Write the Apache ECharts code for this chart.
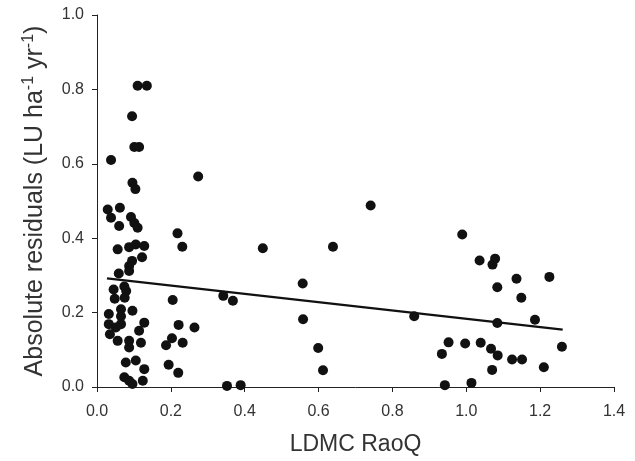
<!DOCTYPE html>
<html>
<head>
<meta charset="utf-8">
<script src="https://cdn.jsdelivr.net/npm/echarts@6/dist/echarts.min.js"></script>
<style>
  html, body { margin: 0; padding: 0; background: #fff; }
  #chart { width: 635px; height: 461px; }
</style>
</head>
<body>
<div id="chart"></div>
<script>
// LDMC RaoQ (x) vs absolute residuals (y)
const ldmcRaoQ = [
  0.110, 0.135, 0.095, 0.101, 0.114, 0.038, 0.096, 0.104, 0.029, 0.062,
  0.038, 0.092, 0.060, 0.101, 0.110, 0.056, 0.087, 0.105, 0.128, 0.122,
  0.095, 0.087, 0.087, 0.059, 0.074, 0.079, 0.045, 0.075, 0.048, 0.065,
  0.096, 0.032, 0.065, 0.032, 0.051, 0.065, 0.128, 0.114, 0.035, 0.056,
  0.087, 0.087, 0.119, 0.078, 0.105, 0.128, 0.074, 0.087, 0.096, 0.124,
  0.274, 0.218, 0.231, 0.205, 0.221, 0.264, 0.203, 0.187, 0.232, 0.194,
  0.220, 0.342, 0.368, 0.352, 0.389, 0.449, 0.557, 0.558, 0.599, 0.612,
  0.639, 0.741, 0.859, 0.989, 1.036, 1.078, 1.071, 1.136, 1.225, 1.084,
  1.149, 1.084, 1.186, 0.952, 0.934, 0.997, 1.039, 1.067, 1.085, 1.124,
  1.151, 1.070, 1.210, 1.259, 0.942, 1.014
];
const absResiduals = [
  0.810, 0.810, 0.728, 0.645, 0.645, 0.610, 0.549, 0.532, 0.477, 0.482,
  0.455, 0.457, 0.433, 0.441, 0.428, 0.370, 0.376, 0.383, 0.379, 0.349,
  0.339, 0.325, 0.312, 0.305, 0.270, 0.258, 0.262, 0.240, 0.237, 0.209,
  0.205, 0.196, 0.190, 0.169, 0.160, 0.169, 0.173, 0.151, 0.142, 0.124,
  0.124, 0.106, 0.119, 0.066, 0.071, 0.048, 0.026, 0.017, 0.008, 0.017,
  0.566, 0.413, 0.377, 0.234, 0.167, 0.160, 0.131, 0.112, 0.119, 0.060,
  0.038, 0.245, 0.232, 0.003, 0.005, 0.373, 0.278, 0.182, 0.105, 0.045,
  0.377, 0.488, 0.190, 0.410, 0.340, 0.345, 0.329, 0.291, 0.296, 0.268,
  0.240, 0.172, 0.181, 0.120, 0.089, 0.117, 0.119, 0.103, 0.085, 0.074,
  0.074, 0.046, 0.053, 0.108, 0.005, 0.011
];
// fitted regression line end points
const fitX = [0.027, 1.261];
const fitY = [0.292, 0.154];

const xTicks = [0, 0.2, 0.4, 0.6, 0.8, 1.0, 1.2, 1.4];
const yTicks = [0, 0.2, 0.4, 0.6, 0.8, 1.0];

const points = ldmcRaoQ.map((x, i) => [x, absResiduals[i]]);
const fitLine = fitX.map((x, i) => [x, fitY[i]]);

const txt = '#333';
const font = '"Liberation Sans", Arial, sans-serif';

const myChart = echarts.init(document.getElementById('chart'));
const option = {
  animation: false,
  grid: { left: 97, right: 21, top: 15, bottom: 73 },
  xAxis: {
    type: 'value',
    min: xTicks[0],
    max: xTicks[xTicks.length - 1],
    interval: 0.2,
    name: 'LDMC RaoQ',
    nameLocation: 'middle',
    nameGap: 46,
    nameTextStyle: { fontSize: 23, color: txt, fontFamily: font },
    axisLine: { lineStyle: { color: '#222', width: 1 } },
    axisTick: { show: true, length: 5, lineStyle: { color: '#222' } },
    axisLabel: {
      color: txt, fontSize: 16, fontFamily: font, margin: 17,
      formatter: v => v.toFixed(1)
    },
    splitLine: { show: false }
  },
  yAxis: {
    type: 'value',
    min: yTicks[0],
    max: yTicks[yTicks.length - 1],
    interval: 0.2,
    name: '{a|Absolute residuals (LU ha}{s|-1}{a| yr}{s|-1}{a|)}',
    nameLocation: 'middle',
    nameGap: 48,
    nameTextStyle: {
      fontFamily: font,
      rich: {
        a: { fontSize: 25, color: txt, fontFamily: font },
        s: { fontSize: 16, color: txt, fontFamily: font, padding: [0, 0, 12, 0] }
      }
    },
    axisLine: { show: true, lineStyle: { color: '#222', width: 1 } },
    axisTick: { show: true, length: 5, lineStyle: { color: '#222' } },
    axisLabel: {
      color: txt, fontSize: 16, fontFamily: font, margin: 13,
      formatter: v => v.toFixed(1)
    },
    splitLine: { show: false }
  },
  series: [{
    type: 'scatter',
    data: points,
    symbolSize: 10,
    itemStyle: { color: '#111', opacity: 1 },
    z: 3
  }, {
    type: 'line',
    data: fitLine,
    symbol: 'none',
    lineStyle: { color: '#111', width: 2.2 },
    z: 2
  }]
};
myChart.setOption(option);
</script>
</body>
</html>
